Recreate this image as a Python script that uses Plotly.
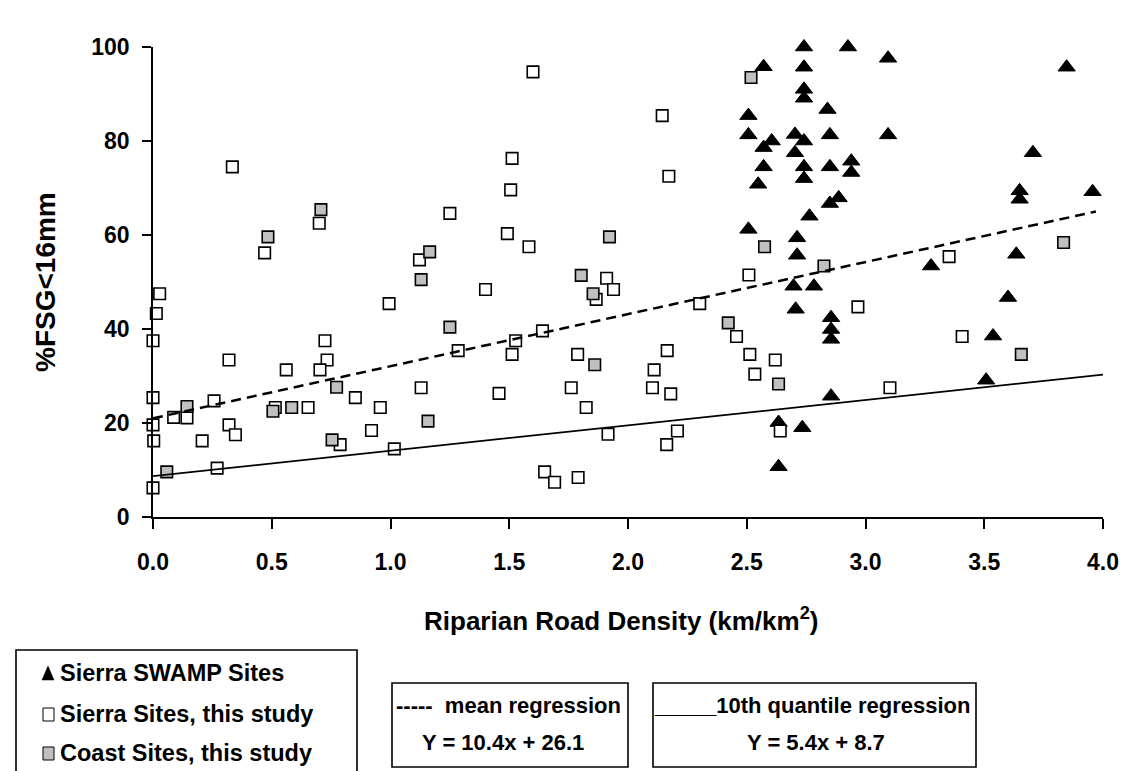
import plotly.graph_objects as go

# Sierra SWAMP sites (triangles)
swamp_x = [2.741, 2.926, 3.095, 3.847, 2.571, 2.741, 2.741, 2.741, 2.84, 2.507,
           2.507, 2.605, 2.571, 2.703, 2.741, 2.703, 2.85, 3.095, 3.705, 2.571,
           2.741, 2.741, 2.85, 2.94, 2.94, 2.548, 2.85, 2.887, 2.764, 2.507,
           2.712, 2.712, 3.649, 3.649, 3.956, 3.276, 3.635, 2.697, 2.783, 2.706,
           2.855, 2.855, 2.855, 3.6, 3.537, 3.508, 2.855, 2.634, 2.734, 2.634]
swamp_y = [100.0, 100.0, 97.6, 95.7, 95.8, 95.7, 91.0, 89.1, 86.7, 85.4,
           81.3, 80.0, 78.6, 81.4, 80.0, 77.5, 81.3, 81.3, 77.5, 74.5,
           74.5, 72.0, 74.5, 75.7, 73.3, 70.8, 66.7, 67.9, 64.0, 61.2,
           59.4, 55.7, 69.4, 67.6, 69.2, 53.4, 55.9, 49.1, 49.1, 44.2,
           42.4, 39.9, 37.8, 46.7, 38.5, 29.1, 25.7, 20.1, 19.0, 10.7]

# Sierra sites, this study (white squares)
sierra_x = [0.334, 0.470, 0.700, 0.028, 0.014, 0.0, 0.0, 0.0, 0.003, 0.0,
            0.270, 0.087, 0.143, 0.257, 0.32, 0.32, 0.347, 0.207, 0.561, 0.515,
            0.653, 0.724, 0.733, 0.703, 0.852, 0.788, 0.92, 0.994, 1.4, 1.285,
            1.527, 1.512, 1.64, 1.788, 0.957, 1.129, 1.016, 1.457, 1.761, 1.824,
            1.649, 1.691, 1.79, 1.916, 1.866, 1.91, 1.6, 1.512, 1.506, 1.25,
            1.492, 1.583, 1.122, 2.144, 2.172, 2.509, 1.939, 2.302, 2.457, 2.513,
            2.534, 2.62, 2.165, 2.11, 2.103, 2.18, 2.208, 2.163, 2.641, 2.968,
            3.407, 3.103, 3.352]
sierra_y = [74.5, 56.2, 62.5, 47.5, 43.3, 37.5, 25.4, 19.6, 16.2, 6.2,
            10.4, 21.2, 21.1, 24.7, 33.4, 19.6, 17.5, 16.2, 31.3, 23.3,
            23.3, 37.5, 33.4, 31.3, 25.4, 15.4, 18.4, 45.4, 48.4, 35.4,
            37.5, 34.6, 39.6, 34.6, 23.3, 27.5, 14.5, 26.3, 27.5, 23.3,
            9.6, 7.4, 8.4, 17.6, 46.3, 50.8, 94.7, 76.3, 69.6, 64.6,
            60.3, 57.5, 54.7, 85.4, 72.5, 51.5, 48.4, 45.4, 38.4, 34.6,
            30.4, 33.4, 35.4, 31.3, 27.5, 26.2, 18.3, 15.4, 18.3, 44.7,
            38.4, 27.5, 55.4]

# Coast sites, this study (grey squares)
coast_x = [0.484, 0.707, 0.058, 0.143, 0.505, 0.584, 0.773, 0.754, 1.129, 1.25,
           1.158, 1.803, 1.853, 1.86, 1.165, 2.518, 1.922, 2.575, 2.825, 2.422,
           2.634, 3.834, 3.656]
coast_y = [59.6, 65.4, 9.6, 23.5, 22.5, 23.3, 27.6, 16.4, 50.5, 40.4,
           20.4, 51.4, 47.5, 32.4, 56.4, 93.5, 59.6, 57.5, 53.4, 41.3,
           28.3, 58.4, 34.6]

# regression lines as drawn
mean_x = [0.0, 3.97]
mean_y = [21.0, 65.0]
q10_x = [0.0, 4.0]
q10_y = [8.7, 30.3]

x_ticks = [0.0, 0.5, 1.0, 1.5, 2.0, 2.5, 3.0, 3.5, 4.0]
y_ticks = [0, 20, 40, 60, 80, 100]

W, H = 1127, 771
L, R, T, B = 145, 1095, 39, 509
FONT = "Liberation Sans, Arial, sans-serif"


def px(x):
    return (x - L) / (R - L)


def py(y):
    return (B - y) / (B - T)


fig = go.Figure()

fig.add_trace(go.Scatter(
    x=swamp_x, y=swamp_y, mode="markers", cliponaxis=False,
    marker=dict(symbol="triangle-up", size=15, color="black", line=dict(width=1, color="black")),
))
fig.add_trace(go.Scatter(
    x=sierra_x, y=sierra_y, mode="markers", cliponaxis=False,
    marker=dict(symbol="square", size=11.5, color="white", line=dict(width=1.6, color="black")),
))
fig.add_trace(go.Scatter(
    x=coast_x, y=coast_y, mode="markers", cliponaxis=False,
    marker=dict(symbol="square", size=11.5, color="#c0c0c0", line=dict(width=1.6, color="black")),
))
fig.add_trace(go.Scatter(
    x=mean_x, y=mean_y, mode="lines",
    line=dict(color="black", width=2.5, dash="10px,6px"),
))
fig.add_trace(go.Scatter(
    x=q10_x, y=q10_y, mode="lines",
    line=dict(color="black", width=1.8),
))

fig.update_xaxes(
    range=[0, 4], tickvals=x_ticks, ticktext=[f"{v:.1f}" for v in x_ticks],
    showline=True, linecolor="black", linewidth=1.6, ticks="outside", ticklen=10,
    tickwidth=1.6, tickcolor="black", showgrid=False, zeroline=False,
    ticklabelstandoff=14,
    tickfont=dict(family=FONT, size=23, color="black", weight="bold"),
)
fig.update_yaxes(
    range=[0, 100], tickvals=y_ticks,
    showline=True, linecolor="black", linewidth=1.6, ticks="outside", ticklen=9,
    tickwidth=1.6, tickcolor="black", showgrid=False, zeroline=False,
    ticklabelstandoff=8,
    tickfont=dict(family=FONT, size=23, color="black", weight="bold"),
)

annotations = [
    dict(x=px(613), y=py(611), text="<b>Riparian Road Density (km/km<sup>2</sup>)</b>",
         font=dict(size=26)),
    dict(x=px(37), y=py(274), text="<b>%FSG<16mm</b>", textangle=-90, font=dict(size=28)),
    dict(x=px(50), y=py(665), text="<b>Sierra SWAMP Sites</b>", xanchor="left", font=dict(size=23.5)),
    dict(x=px(50), y=py(706), text="<b>Sierra Sites, this study</b>", xanchor="left", font=dict(size=23.5)),
    dict(x=px(50), y=py(745), text="<b>Coast Sites, this study</b>", xanchor="left", font=dict(size=23.5)),
    dict(x=px(500), y=py(697), text="<b>-----  mean regression</b>", font=dict(size=22)),
    dict(x=px(495), y=py(734), text="<b>Y = 10.4x + 26.1</b>", font=dict(size=22)),
    dict(x=px(804), y=py(697), text="<b>_____10th quantile regression</b>", font=dict(size=22)),
    dict(x=px(808), y=py(734), text="<b>Y = 5.4x + 8.7</b>", font=dict(size=22)),
]
for a in annotations:
    a.update(xref="paper", yref="paper", showarrow=False, yanchor="middle")
    a.setdefault("xanchor", "center")
    a["font"].update(family=FONT, color="black")

shapes = []
# legend boxes
for x0, y0, x1, y1 in [(8, 642, 349, 768), (384, 675, 620, 759), (645, 675, 968, 759)]:
    shapes.append(dict(type="rect", xref="paper", yref="paper",
                       x0=px(x0), x1=px(x1), y0=py(y1), y1=py(y0),
                       line=dict(color="black", width=1.6), fillcolor="rgba(0,0,0,0)"))
# legend symbols
tri = f"M {px(34)} {py(672)} L {px(46)} {py(672)} L {px(40)} {py(658)} Z"
shapes.append(dict(type="path", xref="paper", yref="paper", path=tri,
                   fillcolor="black", line=dict(color="black", width=0.5)))
shapes.append(dict(type="rect", xref="paper", yref="paper",
                   x0=px(35), x1=px(46), y0=py(713), y1=py(700),
                   fillcolor="white", line=dict(color="black", width=1)))
shapes.append(dict(type="rect", xref="paper", yref="paper",
                   x0=px(35), x1=px(46), y0=py(752), y1=py(739),
                   fillcolor="#c0c0c0", line=dict(color="black", width=1)))

fig.update_layout(
    width=W, height=H,
    margin=dict(l=L, r=W - R, t=T, b=H - B),
    paper_bgcolor="white", plot_bgcolor="white",
    showlegend=False,
    annotations=annotations,
    shapes=shapes,
)

fig.write_html("out.html")
